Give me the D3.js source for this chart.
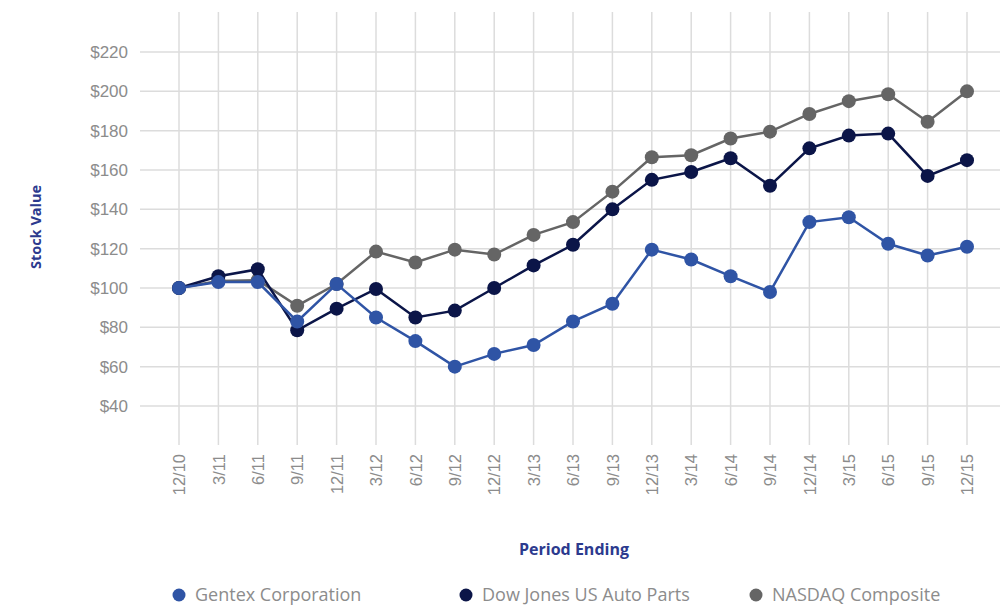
<!DOCTYPE html>
<html>
<head>
<meta charset="utf-8">
<script src="https://cdn.jsdelivr.net/npm/d3@7"></script>
<style>
  body { margin: 0; background: #fff; }
  svg { display: block; font-family: "Open Sans", sans-serif; }
</style>
</head>
<body>
<div id="main"></div>
<script>
// chart values
const periods = ['12/10', '3/11', '6/11', '9/11', '12/11', '3/12', '6/12', '9/12', '12/12', '3/13', '6/13',
  '9/13', '12/13', '3/14', '6/14', '9/14', '12/14', '3/15', '6/15', '9/15', '12/15']
const gentex = [100, 103, 103, 83, 102, 85, 73, 60, 66.5, 71, 83, 92, 119.5, 114.5, 106, 98, 133.5, 136, 122.5, 116.5, 121]
const dowJones = [100, 106, 109.5, 78.5, 89.5, 99.5, 85, 88.5, 100, 111.5, 122, 140, 155, 159, 166, 152, 171, 177.5, 178.5, 157, 165]
const nasdaq = [100, 103.5, 104, 91, 102, 118.5, 113, 119.5, 117, 127, 133.5, 149, 166.5, 167.5, 176, 179.5, 188.5, 195, 198.5, 184.5, 200]
const yTicks = [40, 60, 80, 100, 120, 140, 160, 180, 200, 220]

const series = [
  { name: 'NASDAQ Composite', values: nasdaq, color: '#656565' },
  { name: 'Dow Jones US Auto Parts', values: dowJones, color: '#0b1548' },
  { name: 'Gentex Corporation', values: gentex, color: '#2f54a5' }
]

const W = 1000, H = 607
const svg = d3.select('#main').append('svg').attr('width', W).attr('height', H)

const x = d3.scalePoint().domain(periods).range([179, 967])
const y = d3.scaleLinear().domain([40, 220]).range([406, 52])

// grid
const grid = svg.append('g').attr('class', 'grid')
grid.selectAll('line.h').data(yTicks).join('line').attr('class', 'h')
  .attr('x1', 140).attr('x2', W).attr('y1', d => y(d)).attr('y2', d => y(d))
  .attr('stroke', '#dcdcdc').attr('stroke-width', 1.5)
grid.selectAll('line.v').data(periods).join('line').attr('class', 'v')
  .attr('x1', d => x(d)).attr('x2', d => x(d)).attr('y1', 12).attr('y2', 445)
  .attr('stroke', '#dcdcdc').attr('stroke-width', 1.5)

// y axis labels
const yAxis = svg.append('g').attr('transform', 'translate(128,0)')
  .call(d3.axisLeft(y).tickValues(yTicks).tickSize(0).tickPadding(0).tickFormat(d => '$' + d))
yAxis.select('.domain').remove()
yAxis.selectAll('text').attr('fill', '#8c8c8c').attr('font-size', 17)

// x axis labels, rotated
const xAxis = svg.append('g').attr('transform', 'translate(0,454)')
  .call(d3.axisBottom(x).tickSize(0).tickPadding(0))
xAxis.select('.domain').remove()
xAxis.selectAll('text')
  .attr('fill', '#8c8c8c').attr('font-size', 16.5)
  .attr('text-anchor', 'end').attr('dy', '0.35em').attr('y', 0).attr('x', 0)
  .attr('transform', 'rotate(-90)')

// axis titles
svg.append('text').attr('x', 574).attr('y', 555).attr('text-anchor', 'middle')
  .attr('fill', '#2c3a8e').attr('font-size', 16).attr('font-weight', 'bold').text('Period Ending')
svg.append('text').attr('transform', 'translate(41,227) rotate(-90)').attr('text-anchor', 'middle')
  .attr('fill', '#2c3a8e').attr('font-size', 14.5).attr('font-weight', 'bold').text('Stock Value')

// lines + markers
const line = d3.line().x((d, i) => x(periods[i])).y(d => y(d))
const gSeries = svg.append('g').selectAll('g').data(series).join('g')
gSeries.append('path').attr('d', d => line(d.values))
  .attr('fill', 'none').attr('stroke', d => d.color).attr('stroke-width', 2.5)
gSeries.each(function (s) {
  d3.select(this).selectAll('circle').data(s.values).join('circle')
    .attr('cx', (d, i) => x(periods[i])).attr('cy', d => y(d)).attr('r', 7)
    .attr('fill', s.color)
})

// legend
const legendX = [179, 466, 756]
const legend = svg.append('g').selectAll('g').data(series.slice().reverse()).join('g')
  .attr('transform', (d, i) => 'translate(' + legendX[i] + ',595)')
legend.append('circle').attr('r', 6.5).attr('fill', d => d.color)
legend.append('text').attr('x', 16).attr('y', 6).attr('font-size', 18).attr('fill', '#8c8c8c').text(d => d.name)
</script>
</body>
</html>
